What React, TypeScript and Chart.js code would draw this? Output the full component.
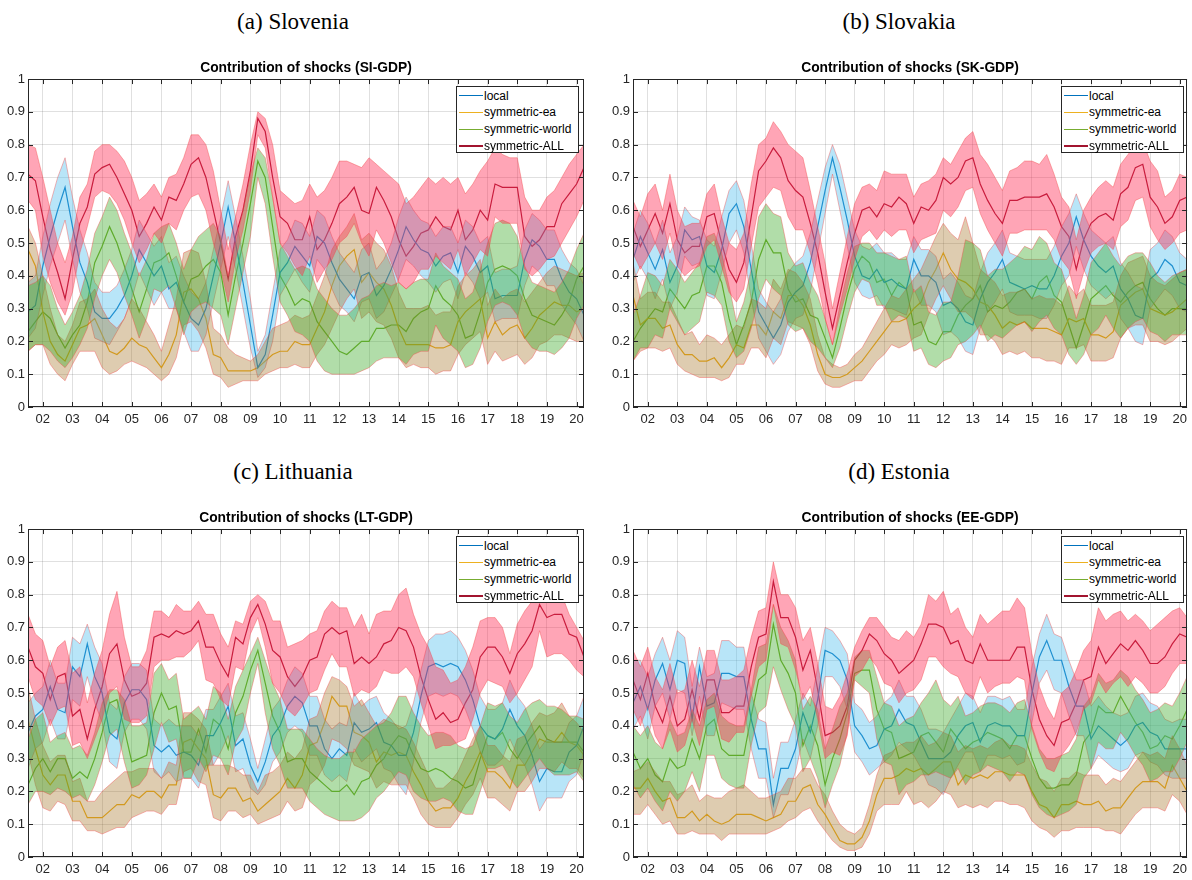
import React, { useEffect, useRef } from 'react';
import Chart from 'chart.js/auto';

// quarterly observations, 2001Q3 .. 2020Q2
const FIRST_QUARTER = 2001.5;
const N_QUARTERS = 76;
const QUARTERS = Array.from({ length: N_QUARTERS }, (_, i) => FIRST_QUARTER + i * 0.25);
const X_MIN = 2001.5;
const X_MAX = 2020.25;
const YEAR_TICKS = [2002, 2003, 2004, 2005, 2006, 2007, 2008, 2009, 2010, 2011, 2012, 2013, 2014, 2015, 2016, 2017, 2018, 2019, 2020];

const SERIES_NAMES = ['local', 'symmetric-ea', 'symmetric-world', 'symmetric-ALL'];

// values in percent (0..100)
// ---- (a) Slovenia ----
const SI_LOCAL = [29, 31, 43, 52, 60, 67, 55, 44, 38, 29, 27, 27, 30, 34, 40, 48, 44, 40, 43, 36, 38, 32, 27, 25, 30, 40, 50, 61, 50, 38, 25, 12, 16, 28, 41, 44, 49, 46, 43, 52, 50, 44, 39, 36, 33, 40, 41, 34, 37, 42, 48, 55, 51, 48, 47, 43, 46, 47, 41, 49, 46, 41, 43, 33, 34, 34, 34, 45, 51, 49, 45, 45, 39, 35, 33, 28];
const SI_LOCAL_HI = [38, 40, 52, 62, 70, 76, 64, 54, 47, 38, 35, 35, 37, 42, 48, 57, 53, 49, 52, 44, 46, 40, 35, 33, 38, 48, 58, 69, 58, 46, 33, 17, 22, 35, 48, 51, 57, 56, 52, 60, 58, 52, 47, 44, 41, 48, 50, 42, 45, 50, 58, 64, 60, 57, 56, 52, 55, 55, 50, 57, 55, 50, 52, 41, 42, 42, 43, 54, 59, 57, 54, 54, 48, 44, 42, 37];
const SI_LOCAL_LO = [21, 24, 34, 43, 50, 57, 45, 35, 30, 21, 20, 19, 23, 27, 33, 41, 36, 31, 35, 30, 30, 23, 17, 17, 22, 32, 42, 52, 42, 30, 18, 9, 12, 20, 34, 38, 42, 38, 35, 45, 42, 36, 31, 29, 26, 32, 33, 27, 29, 34, 39, 45, 43, 40, 38, 35, 38, 39, 33, 41, 38, 33, 35, 26, 27, 27, 27, 37, 43, 41, 37, 37, 31, 28, 25, 20];
const SI_EA = [48, 43, 29, 20, 16, 14, 19, 24, 25, 27, 22, 17, 16, 18, 21, 19, 18, 15, 12, 16, 22, 35, 36, 33, 27, 16, 15, 11, 11, 11, 11, 12, 14, 16, 17, 17, 20, 19, 19, 24, 29, 37, 43, 46, 48, 38, 41, 38, 36, 31, 24, 19, 19, 19, 19, 18, 18, 19, 26, 29, 31, 33, 21, 26, 22, 24, 25, 21, 24, 28, 30, 32, 31, 31, 29, 30];
const SI_EA_HI = [55, 50, 40, 30, 22, 20, 25, 32, 33, 36, 30, 26, 24, 27, 33, 30, 26, 22, 17, 25, 33, 47, 48, 47, 38, 24, 22, 18, 16, 15, 14, 16, 20, 24, 25, 26, 28, 27, 28, 34, 40, 48, 52, 55, 59, 51, 53, 50, 48, 43, 35, 30, 30, 30, 31, 28, 29, 29, 37, 40, 42, 45, 31, 36, 33, 35, 36, 32, 35, 38, 41, 43, 42, 41, 40, 41];
const SI_EA_LO = [17, 19, 19, 13, 10, 8, 13, 17, 17, 17, 12, 10, 11, 13, 14, 13, 12, 10, 8, 10, 15, 25, 26, 23, 18, 10, 9, 6, 7, 8, 8, 8, 10, 11, 12, 12, 13, 12, 12, 16, 19, 24, 29, 33, 36, 27, 29, 26, 25, 21, 15, 12, 13, 12, 12, 10, 11, 11, 16, 19, 21, 23, 13, 17, 14, 15, 16, 13, 15, 19, 20, 22, 22, 21, 20, 20];
const SI_WORLD = [23, 26, 29, 27, 22, 18, 22, 25, 32, 44, 49, 55, 50, 43, 36, 29, 36, 44, 45, 47, 40, 32, 39, 40, 43, 45, 41, 28, 40, 50, 62, 75, 70, 55, 40, 36, 31, 33, 32, 26, 23, 20, 17, 16, 18, 20, 20, 24, 24, 25, 25, 23, 27, 29, 30, 37, 33, 31, 28, 21, 22, 29, 38, 42, 43, 42, 40, 33, 28, 27, 26, 25, 28, 32, 39, 43];
const SI_WORLD_HI = [37, 38, 40, 37, 30, 25, 29, 34, 42, 53, 58, 64, 60, 53, 47, 40, 45, 53, 55, 56, 50, 42, 48, 52, 54, 56, 52, 40, 50, 60, 71, 79, 76, 64, 50, 46, 42, 43, 42, 36, 33, 30, 28, 28, 30, 33, 34, 37, 38, 37, 38, 36, 38, 39, 39, 47, 43, 41, 39, 33, 35, 42, 50, 56, 57, 56, 52, 43, 38, 37, 36, 35, 38, 42, 48, 53];
const SI_WORLD_LO = [17, 19, 19, 17, 14, 12, 15, 19, 24, 33, 40, 45, 41, 34, 28, 21, 27, 36, 35, 37, 30, 22, 29, 31, 32, 30, 28, 19, 30, 41, 52, 70, 62, 46, 32, 28, 23, 22, 20, 14, 11, 10, 10, 10, 10, 11, 12, 14, 15, 15, 15, 13, 16, 17, 17, 25, 21, 19, 17, 12, 13, 18, 26, 31, 32, 31, 28, 21, 18, 17, 17, 16, 18, 21, 27, 31];
const SI_ALL = [71, 69, 58, 48, 41, 33, 45, 56, 61, 71, 73, 74, 70, 65, 60, 52, 56, 61, 57, 64, 63, 68, 74, 76, 70, 60, 50, 39, 52, 60, 72, 88, 84, 70, 58, 56, 51, 51, 58, 48, 51, 56, 62, 64, 67, 60, 59, 67, 63, 58, 51, 46, 49, 53, 54, 58, 55, 54, 60, 51, 54, 60, 57, 68, 67, 67, 67, 52, 49, 51, 55, 55, 62, 65, 68, 73];
const SI_ALL_HI = [80, 79, 70, 60, 50, 44, 52, 64, 68, 78, 80, 80, 78, 75, 70, 63, 65, 68, 64, 70, 71, 76, 83, 83, 80, 72, 60, 48, 58, 68, 80, 90, 88, 80, 66, 64, 62, 63, 68, 64, 66, 70, 75, 75, 74, 73, 76, 74, 72, 70, 68, 62, 64, 67, 70, 68, 70, 68, 70, 65, 68, 72, 75, 79, 77, 76, 76, 64, 60, 60, 64, 66, 70, 74, 77, 80];
const SI_ALL_LO = [63, 60, 46, 38, 32, 28, 35, 47, 55, 64, 66, 65, 62, 57, 50, 44, 48, 53, 50, 56, 54, 60, 64, 65, 60, 50, 42, 32, 45, 54, 66, 83, 79, 64, 50, 47, 43, 40, 46, 38, 42, 45, 50, 52, 56, 50, 46, 54, 50, 44, 38, 36, 38, 42, 42, 46, 44, 42, 48, 40, 44, 48, 46, 58, 56, 56, 56, 42, 40, 42, 45, 46, 50, 54, 58, 63];

// ---- (b) Slovakia ----
const SK_LOCAL = [45, 52, 47, 42, 48, 38, 43, 54, 51, 52, 43, 41, 48, 59, 62, 55, 42, 29, 25, 21, 25, 32, 35, 37, 44, 55, 66, 76, 67, 57, 46, 40, 39, 42, 38, 39, 37, 36, 45, 40, 40, 38, 31, 32, 30, 26, 25, 33, 38, 41, 45, 38, 37, 36, 37, 36, 36, 40, 46, 50, 58, 51, 46, 43, 41, 43, 36, 33, 28, 27, 39, 41, 45, 43, 38, 37];
const SK_LOCAL_HI = [53, 60, 56, 50, 57, 47, 52, 61, 58, 57, 51, 49, 58, 66, 69, 63, 50, 36, 32, 29, 33, 41, 44, 46, 53, 63, 73, 80, 74, 64, 54, 49, 48, 50, 47, 47, 45, 45, 52, 48, 48, 46, 39, 41, 38, 34, 33, 41, 47, 50, 54, 47, 46, 45, 45, 45, 45, 49, 55, 59, 65, 59, 54, 52, 50, 52, 44, 41, 37, 36, 48, 50, 54, 52, 47, 45];
const SK_LOCAL_LO = [38, 43, 39, 33, 39, 30, 35, 46, 43, 44, 34, 33, 41, 50, 54, 47, 33, 21, 17, 13, 16, 23, 27, 28, 35, 47, 59, 71, 60, 49, 38, 34, 33, 34, 30, 30, 29, 28, 36, 31, 31, 29, 22, 23, 21, 17, 16, 24, 29, 32, 36, 29, 28, 28, 28, 27, 27, 31, 37, 40, 49, 42, 37, 35, 33, 35, 27, 24, 20, 19, 30, 33, 36, 34, 30, 29];
const SK_EA = [34, 25, 27, 27, 24, 25, 19, 16, 16, 14, 14, 15, 12, 15, 19, 18, 25, 25, 22, 29, 27, 34, 34, 31, 25, 16, 10, 9, 9, 10, 12, 14, 17, 20, 23, 26, 26, 27, 30, 32, 38, 42, 47, 42, 39, 38, 36, 32, 31, 28, 24, 26, 25, 26, 24, 24, 24, 23, 22, 27, 26, 27, 22, 22, 21, 23, 31, 33, 35, 36, 30, 29, 28, 29, 31, 33];
const SK_EA_HI = [44, 33, 35, 35, 32, 32, 27, 22, 23, 19, 22, 21, 19, 22, 25, 24, 33, 32, 30, 39, 36, 42, 41, 38, 33, 22, 15, 13, 12, 13, 16, 18, 22, 26, 30, 34, 33, 36, 39, 42, 47, 52, 56, 53, 51, 58, 50, 42, 40, 38, 34, 35, 35, 36, 33, 34, 33, 33, 31, 37, 34, 36, 31, 31, 31, 32, 40, 44, 45, 46, 40, 38, 37, 39, 41, 42];
const SK_EA_LO = [14, 17, 18, 18, 17, 18, 13, 11, 10, 9, 9, 9, 8, 9, 13, 13, 18, 18, 15, 21, 19, 26, 25, 24, 19, 11, 7, 6, 6, 7, 8, 8, 11, 14, 16, 19, 18, 19, 21, 22, 28, 33, 37, 33, 29, 29, 27, 22, 22, 20, 16, 17, 16, 17, 15, 15, 14, 14, 13, 18, 18, 19, 14, 14, 14, 15, 21, 24, 25, 25, 20, 20, 19, 20, 22, 24];
const SK_WORLD = [20, 24, 27, 30, 29, 36, 33, 30, 34, 35, 43, 43, 38, 27, 19, 25, 32, 45, 51, 47, 47, 36, 32, 33, 28, 27, 21, 15, 24, 34, 42, 46, 44, 38, 39, 34, 38, 36, 25, 26, 20, 19, 23, 23, 28, 31, 33, 37, 29, 31, 30, 32, 35, 36, 33, 38, 40, 34, 32, 25, 18, 25, 33, 35, 37, 34, 32, 35, 37, 38, 33, 30, 28, 30, 30, 30];
const SK_WORLD_HI = [28, 34, 41, 40, 37, 45, 42, 38, 41, 44, 52, 53, 47, 37, 26, 32, 42, 58, 62, 59, 58, 47, 43, 44, 38, 34, 27, 19, 31, 41, 49, 50, 50, 47, 47, 46, 45, 46, 35, 37, 29, 28, 32, 32, 40, 51, 50, 48, 40, 42, 42, 44, 46, 49, 48, 52, 50, 44, 42, 35, 27, 34, 44, 47, 50, 46, 43, 46, 47, 47, 44, 40, 38, 40, 41, 42];
const SK_WORLD_LO = [14, 18, 18, 22, 21, 30, 26, 22, 24, 26, 35, 34, 31, 20, 15, 17, 24, 33, 39, 36, 34, 25, 23, 24, 20, 18, 15, 12, 18, 27, 35, 39, 38, 31, 31, 26, 28, 27, 17, 18, 13, 12, 14, 15, 19, 20, 22, 25, 20, 22, 21, 23, 25, 26, 23, 26, 28, 24, 22, 16, 13, 16, 22, 24, 28, 24, 21, 24, 26, 27, 23, 22, 20, 22, 22, 22];
const SK_ALL = [55, 49, 54, 59, 53, 62, 51, 47, 49, 49, 58, 59, 50, 42, 38, 44, 58, 72, 75, 79, 76, 69, 66, 64, 56, 47, 35, 24, 34, 44, 53, 60, 61, 58, 62, 61, 64, 62, 56, 61, 60, 63, 70, 68, 70, 75, 76, 68, 63, 59, 56, 63, 63, 64, 64, 64, 65, 61, 55, 52, 42, 51, 56, 58, 59, 57, 65, 67, 73, 74, 64, 61, 56, 58, 63, 64];
const SK_ALL_HI = [63, 58, 65, 68, 60, 71, 60, 55, 56, 56, 65, 68, 58, 50, 48, 53, 68, 80, 82, 87, 84, 80, 78, 76, 66, 55, 44, 30, 41, 52, 62, 67, 68, 66, 72, 71, 71, 71, 64, 68, 69, 71, 76, 74, 78, 82, 84, 77, 74, 70, 66, 72, 73, 75, 75, 74, 77, 71, 64, 61, 51, 60, 64, 67, 69, 67, 74, 77, 80, 81, 75, 72, 64, 66, 71, 70];
const SK_ALL_LO = [47, 42, 46, 50, 45, 53, 43, 40, 42, 43, 49, 51, 43, 35, 32, 36, 49, 61, 64, 67, 66, 58, 54, 54, 47, 38, 27, 19, 28, 36, 45, 52, 54, 51, 54, 52, 54, 54, 47, 51, 52, 53, 60, 58, 61, 66, 67, 59, 54, 50, 46, 53, 53, 54, 54, 54, 54, 51, 45, 42, 33, 41, 47, 49, 50, 48, 55, 57, 63, 64, 55, 51, 48, 50, 53, 54];

// ---- (c) Lithuania ----
const LT_LOCAL = [38, 43, 45, 52, 45, 44, 58, 55, 65, 55, 50, 38, 36, 47, 51, 51, 48, 34, 32, 34, 31, 32, 31, 28, 37, 37, 41, 46, 34, 36, 28, 23, 29, 37, 40, 46, 49, 47, 40, 40, 33, 30, 33, 31, 41, 38, 39, 41, 35, 34, 31, 31, 38, 49, 58, 59, 58, 59, 58, 54, 48, 40, 37, 36, 39, 45, 40, 37, 31, 23, 27, 26, 26, 32, 34, 40];
const LT_LOCAL_HI = [47, 50, 52, 60, 53, 53, 67, 65, 71, 64, 59, 47, 45, 55, 59, 59, 57, 42, 40, 42, 40, 40, 40, 37, 45, 45, 49, 53, 43, 44, 36, 27, 36, 45, 48, 54, 58, 56, 49, 49, 42, 39, 41, 40, 50, 46, 48, 49, 44, 42, 39, 40, 47, 57, 66, 68, 68, 69, 67, 63, 57, 49, 45, 45, 47, 54, 49, 46, 40, 33, 36, 35, 35, 41, 43, 49];
const LT_LOCAL_LO = [27, 33, 35, 42, 36, 36, 48, 46, 55, 47, 41, 29, 27, 38, 42, 42, 39, 26, 24, 26, 23, 24, 24, 21, 28, 28, 32, 37, 26, 27, 21, 19, 22, 29, 32, 38, 40, 38, 31, 31, 25, 23, 25, 23, 33, 29, 31, 33, 27, 26, 22, 19, 29, 41, 49, 50, 49, 50, 49, 45, 39, 32, 28, 28, 30, 36, 31, 28, 22, 14, 18, 18, 18, 23, 25, 32];
const LT_EA = [42, 33, 25, 22, 25, 25, 17, 17, 12, 12, 12, 14, 16, 16, 19, 18, 20, 20, 18, 22, 22, 35, 36, 33, 30, 19, 18, 21, 21, 17, 18, 14, 16, 18, 20, 24, 21, 25, 34, 35, 41, 49, 46, 46, 38, 37, 35, 29, 32, 31, 32, 31, 26, 22, 17, 14, 15, 15, 18, 23, 27, 32, 26, 26, 24, 21, 28, 28, 32, 36, 35, 35, 38, 35, 34, 31];
const LT_EA_HI = [52, 42, 34, 29, 31, 31, 23, 24, 17, 17, 20, 22, 24, 26, 26, 27, 27, 27, 24, 29, 28, 44, 44, 42, 39, 28, 28, 28, 27, 25, 25, 20, 25, 26, 28, 32, 30, 33, 42, 43, 50, 55, 54, 52, 46, 48, 44, 40, 42, 41, 40, 39, 35, 30, 25, 21, 21, 23, 26, 31, 36, 40, 34, 34, 31, 29, 36, 37, 41, 44, 43, 44, 47, 43, 41, 38];
const LT_EA_LO = [32, 22, 15, 14, 17, 16, 11, 11, 8, 8, 7, 8, 9, 9, 12, 13, 14, 14, 13, 16, 16, 26, 27, 23, 22, 12, 11, 14, 14, 12, 13, 10, 11, 12, 13, 17, 14, 15, 22, 24, 28, 36, 35, 33, 28, 27, 26, 21, 23, 22, 22, 22, 18, 13, 10, 9, 9, 9, 12, 16, 19, 24, 18, 18, 16, 14, 20, 20, 23, 27, 27, 26, 29, 27, 27, 24];
const LT_WORLD = [22, 27, 30, 26, 30, 30, 24, 26, 24, 30, 38, 47, 48, 39, 29, 30, 31, 44, 50, 45, 46, 32, 32, 39, 32, 42, 40, 33, 44, 49, 57, 63, 53, 43, 38, 29, 30, 30, 26, 24, 22, 20, 20, 22, 19, 23, 24, 28, 30, 34, 37, 36, 31, 27, 26, 27, 26, 24, 23, 21, 22, 30, 37, 36, 38, 33, 30, 34, 37, 40, 36, 35, 35, 35, 35, 32];
const LT_WORLD_HI = [36, 42, 44, 35, 37, 38, 33, 34, 31, 38, 47, 51, 51, 48, 40, 40, 41, 56, 59, 54, 56, 42, 44, 46, 42, 52, 50, 42, 52, 57, 62, 67, 60, 53, 48, 39, 39, 39, 36, 33, 31, 30, 30, 32, 32, 36, 38, 40, 41, 44, 49, 49, 44, 40, 37, 38, 38, 37, 34, 33, 34, 40, 47, 46, 47, 43, 41, 45, 47, 48, 46, 46, 45, 43, 43, 42];
const LT_WORLD_LO = [16, 20, 20, 19, 21, 20, 18, 19, 17, 22, 29, 37, 39, 29, 21, 22, 25, 33, 41, 35, 36, 24, 24, 30, 26, 31, 30, 25, 35, 39, 50, 59, 44, 33, 28, 21, 21, 21, 17, 15, 13, 12, 11, 11, 11, 12, 14, 18, 20, 23, 26, 25, 20, 18, 17, 17, 18, 17, 14, 13, 13, 20, 27, 27, 28, 24, 21, 24, 27, 30, 27, 25, 25, 25, 26, 23];
const LT_ALL = [64, 58, 56, 48, 55, 56, 43, 45, 36, 45, 52, 62, 65, 54, 49, 50, 53, 67, 68, 67, 69, 68, 69, 72, 64, 64, 59, 55, 67, 65, 73, 77, 71, 63, 61, 55, 52, 55, 60, 61, 68, 70, 68, 69, 59, 61, 59, 61, 65, 66, 70, 69, 64, 55, 48, 42, 44, 41, 42, 47, 51, 61, 64, 64, 61, 56, 62, 65, 69, 77, 73, 74, 74, 68, 67, 61];
const LT_ALL_HI = [74, 68, 66, 58, 64, 66, 56, 58, 47, 56, 63, 74, 81, 67, 58, 58, 63, 75, 75, 73, 77, 75, 75, 78, 74, 74, 68, 64, 72, 71, 78, 80, 78, 72, 72, 64, 65, 66, 68, 69, 75, 78, 76, 76, 70, 74, 68, 74, 75, 75, 80, 82, 74, 68, 64, 58, 57, 53, 54, 58, 64, 72, 73, 73, 70, 62, 71, 75, 78, 84, 78, 80, 80, 74, 70, 66];
const LT_ALL_LO = [55, 48, 46, 40, 45, 46, 34, 35, 30, 36, 42, 50, 52, 42, 41, 41, 43, 58, 60, 60, 61, 61, 63, 66, 54, 53, 48, 46, 58, 57, 68, 73, 64, 53, 50, 45, 43, 46, 50, 51, 57, 62, 58, 58, 49, 51, 50, 52, 57, 56, 56, 58, 55, 47, 40, 33, 34, 34, 35, 36, 42, 50, 54, 53, 52, 47, 50, 54, 58, 69, 61, 62, 62, 60, 57, 55];

// ---- (d) Estonia ----
const EE_LOCAL = [47, 52, 45, 54, 59, 51, 60, 59, 42, 58, 46, 47, 56, 56, 55, 55, 42, 33, 33, 16, 27, 27, 33, 44, 38, 48, 63, 62, 60, 54, 40, 37, 33, 34, 39, 40, 45, 41, 40, 35, 30, 30, 30, 32, 37, 40, 41, 35, 40, 41, 40, 40, 37, 37, 50, 61, 66, 60, 60, 52, 46, 46, 36, 40, 38, 36, 34, 36, 40, 41, 38, 37, 33, 33, 33, 33];
const EE_LOCAL_HI = [60, 60, 55, 62, 67, 60, 69, 67, 52, 64, 55, 56, 66, 66, 64, 64, 50, 42, 41, 24, 35, 35, 42, 50, 46, 58, 70, 69, 66, 62, 47, 45, 41, 43, 47, 49, 54, 49, 49, 45, 39, 39, 38, 42, 46, 50, 49, 44, 49, 49, 48, 49, 45, 45, 58, 68, 74, 68, 67, 60, 54, 54, 46, 49, 46, 44, 43, 44, 49, 50, 47, 46, 42, 41, 42, 42];
const EE_LOCAL_LO = [39, 43, 36, 46, 50, 42, 51, 50, 37, 49, 37, 37, 47, 46, 45, 45, 33, 24, 24, 12, 19, 19, 26, 36, 30, 40, 55, 55, 52, 45, 32, 29, 25, 27, 29, 31, 35, 33, 31, 27, 22, 21, 19, 24, 28, 32, 32, 26, 31, 31, 30, 31, 28, 29, 41, 53, 57, 51, 50, 43, 37, 37, 27, 31, 29, 27, 26, 27, 31, 32, 29, 28, 25, 24, 24, 24];
const EE_EA = [21, 21, 24, 20, 17, 18, 12, 12, 14, 11, 13, 11, 10, 11, 13, 13, 13, 12, 11, 12, 13, 17, 17, 21, 22, 16, 13, 9, 5, 4, 4, 6, 11, 19, 24, 24, 25, 27, 26, 27, 25, 27, 29, 29, 22, 25, 24, 25, 24, 26, 26, 25, 25, 25, 20, 16, 15, 12, 16, 16, 17, 16, 16, 17, 14, 15, 15, 18, 21, 23, 23, 23, 21, 28, 24, 20];
const EE_EA_HI = [26, 27, 29, 26, 23, 23, 19, 20, 22, 17, 19, 18, 18, 20, 21, 22, 20, 18, 18, 19, 20, 24, 24, 27, 27, 22, 19, 14, 10, 8, 7, 9, 16, 25, 31, 32, 34, 35, 35, 37, 34, 35, 38, 37, 32, 34, 33, 34, 33, 35, 36, 34, 34, 33, 28, 24, 23, 20, 24, 24, 26, 25, 25, 25, 22, 24, 23, 26, 29, 32, 31, 32, 30, 37, 33, 28];
const EE_EA_LO = [13, 13, 16, 13, 10, 11, 7, 7, 8, 7, 7, 7, 5, 7, 7, 7, 7, 7, 7, 8, 9, 11, 12, 14, 15, 11, 8, 5, 3, 2, 2, 3, 7, 14, 16, 16, 16, 20, 16, 17, 15, 17, 20, 19, 15, 16, 15, 16, 15, 17, 17, 16, 16, 15, 11, 9, 8, 6, 8, 8, 9, 9, 9, 9, 8, 8, 7, 10, 13, 15, 15, 15, 14, 19, 17, 13];
const EE_WORLD = [32, 27, 30, 25, 23, 30, 27, 28, 36, 30, 40, 42, 33, 31, 31, 31, 43, 54, 56, 71, 60, 56, 50, 34, 40, 34, 22, 30, 36, 44, 56, 57, 57, 45, 39, 38, 30, 31, 32, 37, 38, 35, 32, 39, 36, 33, 35, 36, 38, 37, 36, 33, 37, 37, 30, 24, 21, 21, 22, 22, 25, 35, 38, 46, 44, 44, 49, 45, 41, 38, 33, 34, 37, 36, 40, 45];
const EE_WORLD_HI = [40, 37, 40, 35, 33, 42, 37, 38, 45, 40, 48, 50, 43, 41, 40, 40, 51, 64, 65, 77, 70, 66, 60, 45, 49, 45, 33, 39, 46, 50, 61, 63, 63, 55, 47, 46, 40, 42, 43, 47, 50, 54, 48, 46, 49, 43, 44, 46, 47, 47, 46, 44, 47, 48, 40, 33, 30, 30, 31, 32, 36, 46, 49, 56, 53, 54, 57, 55, 51, 48, 44, 45, 47, 46, 50, 55];
const EE_WORLD_LO = [22, 18, 21, 17, 14, 20, 17, 20, 26, 20, 31, 31, 24, 22, 21, 21, 34, 44, 46, 58, 51, 45, 40, 26, 30, 24, 15, 22, 28, 38, 54, 52, 50, 36, 29, 28, 19, 22, 23, 25, 25, 26, 25, 24, 27, 22, 25, 26, 28, 27, 26, 23, 26, 25, 19, 15, 13, 12, 13, 14, 16, 24, 27, 35, 33, 33, 38, 35, 31, 28, 23, 24, 26, 26, 30, 35];
const EE_ALL = [54, 48, 56, 46, 41, 49, 40, 42, 51, 42, 54, 54, 44, 44, 46, 46, 58, 67, 68, 84, 73, 73, 67, 57, 63, 51, 37, 38, 40, 46, 60, 63, 68, 66, 62, 60, 56, 58, 60, 65, 71, 71, 70, 65, 66, 60, 59, 65, 60, 60, 60, 60, 64, 64, 51, 42, 37, 34, 41, 42, 47, 54, 55, 64, 59, 62, 65, 63, 66, 63, 59, 59, 61, 65, 68, 67];
const EE_ALL_HI = [63, 58, 64, 55, 51, 59, 50, 51, 60, 52, 63, 63, 54, 54, 55, 57, 67, 75, 76, 90, 80, 80, 76, 66, 70, 59, 46, 45, 49, 56, 64, 69, 73, 73, 70, 67, 66, 69, 67, 71, 80, 78, 81, 74, 76, 70, 67, 74, 71, 73, 75, 75, 79, 76, 62, 52, 46, 42, 50, 52, 57, 63, 66, 76, 72, 74, 75, 72, 74, 72, 69, 71, 73, 75, 76, 73];
const EE_ALL_LO = [45, 40, 46, 37, 33, 39, 32, 34, 42, 34, 45, 46, 36, 35, 38, 38, 49, 58, 60, 77, 65, 64, 57, 48, 52, 42, 30, 32, 31, 37, 55, 57, 61, 58, 53, 52, 47, 50, 51, 54, 61, 61, 58, 56, 55, 50, 48, 55, 50, 52, 53, 53, 55, 54, 39, 32, 27, 26, 31, 34, 38, 45, 47, 54, 50, 53, 55, 52, 55, 53, 50, 50, 52, 56, 59, 59];

const LINE_COLORS = ['#0072BD', '#EDB120', '#77AC30', '#A2142F'];
const BAND_FILLS = ['rgba(77,190,238,0.4)', 'rgba(160,110,30,0.35)', 'rgba(60,170,40,0.4)', 'rgba(255,40,80,0.42)'];
const BAND_EDGE = 'rgba(240,70,70,0.5)';
const AXIS_COLOR = '#262626';
const SANS = '"Liberation Sans", Arial, sans-serif';

const boxPlugin = {
  id: 'matlabBox',
  afterDraw(chart: any) {
    const { ctx, chartArea: a, scales } = chart;
    const x = scales.x;
    const y = scales.y;
    ctx.save();
    ctx.strokeStyle = AXIS_COLOR;
    ctx.lineWidth = 1;
    ctx.beginPath();
    x.ticks.forEach((t: any) => {
      const px = Math.round(x.getPixelForValue(t.value)) + 0.5;
      ctx.moveTo(px, a.bottom); ctx.lineTo(px, a.bottom - 5);
      ctx.moveTo(px, a.top); ctx.lineTo(px, a.top + 5);
    });
    y.ticks.forEach((t: any) => {
      const py = Math.round(y.getPixelForValue(t.value)) + 0.5;
      ctx.moveTo(a.left, py); ctx.lineTo(a.left + 5, py);
      ctx.moveTo(a.right, py); ctx.lineTo(a.right - 5, py);
    });
    ctx.stroke();
    ctx.strokeRect(Math.round(a.left) + 0.5, Math.round(a.top) + 0.5, Math.round(a.right - a.left) - 1, Math.round(a.bottom - a.top) - 1);
    ctx.restore();
  },
};

type ShockChartProps = {
  title: string;
  lines: number[][];
  lows: number[][];
  highs: number[][];
  width: number;
  height: number;
  padRight: number;
};

const ShockChart = ({ title, lines, lows, highs, width, height, padRight }: ShockChartProps) => {
  const chartRef = useRef<HTMLCanvasElement>(null);

  useEffect(() => {
    const toPoints = (arr: number[]) => arr.map((v, i) => ({ x: QUARTERS[i], y: v / 100 }));
    const datasets: any[] = [];
    // lines first (drawn underneath), bands on top like the matlab figure
    lines.forEach((arr, k) => {
      datasets.push({
        label: SERIES_NAMES[k],
        data: toPoints(arr),
        borderColor: LINE_COLORS[k],
        borderWidth: 1.2,
        pointRadius: 0,
        fill: false,
        order: 10,
      });
    });
    lows.forEach((lo, k) => {
      const band = { borderColor: BAND_EDGE, borderWidth: 0.8, pointRadius: 0, order: 4 - k };
      datasets.push({ ...band, label: SERIES_NAMES[k] + ' lo', data: toPoints(lo), fill: false });
      datasets.push({ ...band, label: SERIES_NAMES[k] + ' hi', data: toPoints(highs[k]), fill: '-1', backgroundColor: BAND_FILLS[k] });
    });

    const chart = new Chart(chartRef.current as HTMLCanvasElement, {
      type: 'line',
      data: { datasets },
      options: {
        animation: false,
        responsive: false,
        events: [],
        layout: { padding: { right: padRight } },
        plugins: {
          legend: { display: false },
          tooltip: { enabled: false },
          title: {
            display: true,
            text: title,
            fullSize: false,
            color: '#000',
            font: { family: SANS, size: 13.8, weight: 'bold' },
            padding: { top: 4, bottom: 2.5 },
          },
        },
        scales: {
          x: {
            type: 'linear',
            min: X_MIN,
            max: X_MAX,
            afterBuildTicks: (s: any) => {
              s.ticks = YEAR_TICKS.map((v) => ({ value: v }));
            },
            afterFit: (s: any) => {
              s.height = 28;
            },
            grid: { color: 'rgba(38,38,38,0.14)', drawTicks: false },
            border: { display: false },
            ticks: {
              autoSkip: false,
              maxRotation: 0,
              padding: 5,
              color: AXIS_COLOR,
              font: { family: SANS, size: 13 },
              callback: (v: any) => String(Math.round(v) % 100).padStart(2, '0'),
            },
          },
          y: {
            min: 0,
            max: 1,
            afterFit: (s: any) => {
              s.width = 28;
            },
            grid: { color: 'rgba(38,38,38,0.14)', drawTicks: false },
            border: { display: false },
            ticks: {
              stepSize: 0.1,
              padding: 3,
              color: AXIS_COLOR,
              font: { family: SANS, size: 13 },
              callback: (v: any) => {
                const r = Math.round(v * 10) / 10;
                return r === 0 ? '0' : r === 1 ? '1' : r.toFixed(1);
              },
            },
          },
        },
      },
      plugins: [boxPlugin],
    });

    return () => {
      chart.destroy();
    };
  }, [title, lines, lows, highs, padRight]);

  return <canvas ref={chartRef} width={width} height={height} style={{ display: 'block' }} />;
};

const Legend = ({ left, top }: { left: number; top: number }) => (
  <div
    style={{
      position: 'absolute',
      left,
      top,
      width: 123,
      height: 67,
      boxSizing: 'border-box',
      background: '#fff',
      border: `1px solid ${AXIS_COLOR}`,
      fontFamily: SANS,
      fontSize: 12,
      color: '#000',
    }}
  >
    {SERIES_NAMES.map((name, k) => (
      <div key={name} style={{ position: 'absolute', left: 0, top: 0.5 + k * 16.9, height: 16, width: '100%' }}>
        <div style={{ position: 'absolute', left: 2, top: 7.3, width: 24, height: 1.5, background: LINE_COLORS[k] }} />
        <span style={{ position: 'absolute', left: 27, top: 0, lineHeight: '16px', whiteSpace: 'nowrap' }}>{name}</span>
      </div>
    ))}
  </div>
);

type PanelProps = {
  caption: string;
  title: string;
  left: number;
  top: number;
  width: number;
  padRight: number;
  captionX: number;
  lines: number[][];
  lows: number[][];
  highs: number[][];
};

const CANVAS_H = 379;

const Panel = ({ caption, title, left, top, width, padRight, captionX, lines, lows, highs }: PanelProps) => {
  const plotRight = left + width - padRight;
  return (
    <>
      <div
        style={{
          position: 'absolute',
          left: captionX - 150,
          top: top - 46,
          width: 300,
          textAlign: 'center',
          fontFamily: '"Liberation Serif", "Times New Roman", serif',
          fontSize: 23,
          lineHeight: '23px',
          color: '#000',
        }}
      >
        {caption}
      </div>
      <div style={{ position: 'absolute', left, top }}>
        <ShockChart title={title} lines={lines} lows={lows} highs={highs} width={width} height={CANVAS_H} padRight={padRight} />
      </div>
      <Legend left={plotRight - 128} top={top + 30} />
    </>
  );
};

const PANELS = [
  {
    caption: '(a) Slovenia', title: 'Contribution of shocks (SI-GDP)', left: 0, top: 56, width: 590, padRight: 6, captionX: 293,
    lines: [SI_LOCAL, SI_EA, SI_WORLD, SI_ALL], lows: [SI_LOCAL_LO, SI_EA_LO, SI_WORLD_LO, SI_ALL_LO], highs: [SI_LOCAL_HI, SI_EA_HI, SI_WORLD_HI, SI_ALL_HI],
  },
  {
    caption: '(b) Slovakia', title: 'Contribution of shocks (SK-GDP)', left: 605, top: 56, width: 587, padRight: 3, captionX: 899,
    lines: [SK_LOCAL, SK_EA, SK_WORLD, SK_ALL], lows: [SK_LOCAL_LO, SK_EA_LO, SK_WORLD_LO, SK_ALL_LO], highs: [SK_LOCAL_HI, SK_EA_HI, SK_WORLD_HI, SK_ALL_HI],
  },
  {
    caption: '(c) Lithuania', title: 'Contribution of shocks (LT-GDP)', left: 0, top: 506, width: 590, padRight: 6, captionX: 293,
    lines: [LT_LOCAL, LT_EA, LT_WORLD, LT_ALL], lows: [LT_LOCAL_LO, LT_EA_LO, LT_WORLD_LO, LT_ALL_LO], highs: [LT_LOCAL_HI, LT_EA_HI, LT_WORLD_HI, LT_ALL_HI],
  },
  {
    caption: '(d) Estonia', title: 'Contribution of shocks (EE-GDP)', left: 605, top: 506, width: 587, padRight: 3, captionX: 899,
    lines: [EE_LOCAL, EE_EA, EE_WORLD, EE_ALL], lows: [EE_LOCAL_LO, EE_EA_LO, EE_WORLD_LO, EE_ALL_LO], highs: [EE_LOCAL_HI, EE_EA_HI, EE_WORLD_HI, EE_ALL_HI],
  },
];

export default function App() {
  return (
    <div style={{ position: 'absolute', left: 0, top: 0, width: 1192, height: 880, background: '#fff', overflow: 'hidden' }}>
      {PANELS.map((p) => (
        <Panel key={p.caption} {...p} />
      ))}
    </div>
  );
}
